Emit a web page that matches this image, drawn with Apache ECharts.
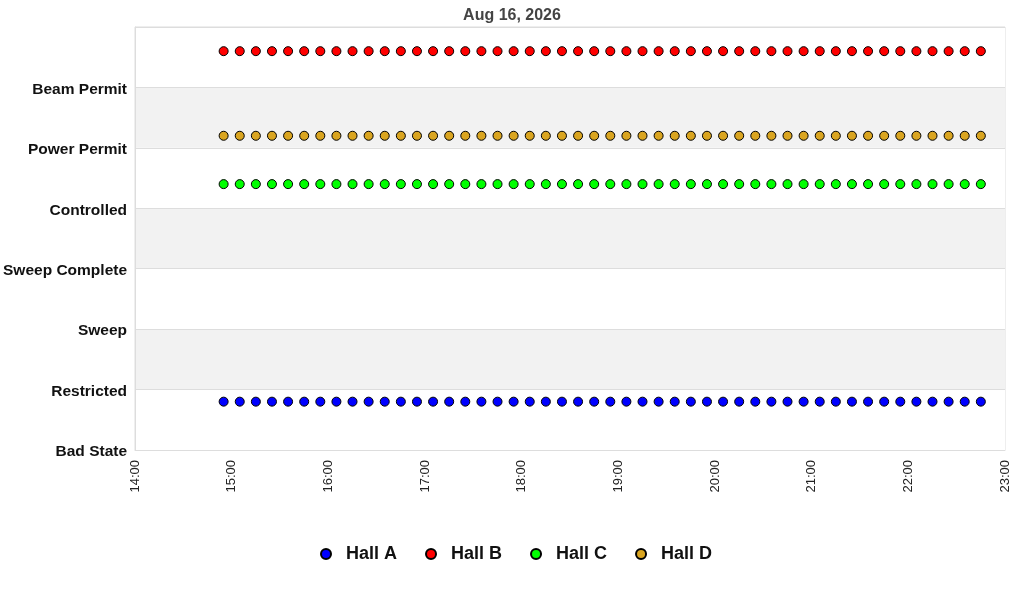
<!DOCTYPE html>
<html><head><meta charset="utf-8">
<script src="https://cdn.jsdelivr.net/npm/echarts@6/dist/echarts.min.js"></script>
<style>html,body{margin:0;padding:0;background:#fff}#c{width:1024px;height:600px}</style>
</head><body><div id="c"></div>
<script>
const day = '2026-08-16';
const times = ['14:55','15:05','15:15','15:25','15:35','15:45','15:55','16:05','16:15','16:25','16:35','16:45',
'16:55','17:05','17:15','17:25','17:35','17:45','17:55','18:05','18:15','18:25','18:35','18:45',
'18:55','19:05','19:15','19:25','19:35','19:45','19:55','20:05','20:15','20:25','20:35','20:45',
'20:55','21:05','21:15','21:25','21:35','21:45','21:55','22:05','22:15','22:25','22:35','22:45'];
const stateLabels = ['Bad State','Restricted','Sweep','Sweep Complete','Controlled','Power Permit','Beam Permit',''];
const hallA = [0.8,0.8,0.8,0.8,0.8,0.8,0.8,0.8,0.8,0.8,0.8,0.8,0.8,0.8,0.8,0.8,0.8,0.8,0.8,0.8,0.8,0.8,0.8,0.8,
0.8,0.8,0.8,0.8,0.8,0.8,0.8,0.8,0.8,0.8,0.8,0.8,0.8,0.8,0.8,0.8,0.8,0.8,0.8,0.8,0.8,0.8,0.8,0.8];
const hallB = [6.6,6.6,6.6,6.6,6.6,6.6,6.6,6.6,6.6,6.6,6.6,6.6,6.6,6.6,6.6,6.6,6.6,6.6,6.6,6.6,6.6,6.6,6.6,6.6,
6.6,6.6,6.6,6.6,6.6,6.6,6.6,6.6,6.6,6.6,6.6,6.6,6.6,6.6,6.6,6.6,6.6,6.6,6.6,6.6,6.6,6.6,6.6,6.6];
const hallC = [4.4,4.4,4.4,4.4,4.4,4.4,4.4,4.4,4.4,4.4,4.4,4.4,4.4,4.4,4.4,4.4,4.4,4.4,4.4,4.4,4.4,4.4,4.4,4.4,
4.4,4.4,4.4,4.4,4.4,4.4,4.4,4.4,4.4,4.4,4.4,4.4,4.4,4.4,4.4,4.4,4.4,4.4,4.4,4.4,4.4,4.4,4.4,4.4];
const hallD = [5.2,5.2,5.2,5.2,5.2,5.2,5.2,5.2,5.2,5.2,5.2,5.2,5.2,5.2,5.2,5.2,5.2,5.2,5.2,5.2,5.2,5.2,5.2,5.2,
5.2,5.2,5.2,5.2,5.2,5.2,5.2,5.2,5.2,5.2,5.2,5.2,5.2,5.2,5.2,5.2,5.2,5.2,5.2,5.2,5.2,5.2,5.2,5.2];
const seriesNames = ['Hall A','Hall B','Hall C','Hall D'];
const seriesColors = ['#0000ff','#ff0000','#00ff00','#daa520'];
const seriesValues = [hallA, hallB, hallC, hallD];

const chart = echarts.init(document.getElementById('c'));
const pad = n => (n < 10 ? '0' : '') + n;
chart.setOption({
  animation: false,
  backgroundColor: '#fff',
  title: { text: 'Aug 16, 2026', left: 'center', top: 3,
    textStyle: { fontFamily: 'Liberation Sans', fontSize: 16, fontWeight: 'bold', color: '#444' } },
  grid: { left: 135, right: 19, top: 27, bottom: 150, show: true, borderColor: '#dddddd', borderWidth: 1, backgroundColor: 'transparent' },
  legend: {
    bottom: 32, left: 315, icon: 'circle', itemWidth: 10, itemHeight: 10, itemGap: 28,
    data: seriesNames,
    textStyle: { fontFamily: 'Liberation Sans', fontSize: 18, fontWeight: 'bold', color: '#111', padding: [0,0,0,10] }
  },
  xAxis: {
    type: 'time',
    min: day + ' 14:00', max: day + ' 23:00', interval: 3600000,
    axisLine: { show: true, lineStyle: { color: '#dddddd' } },
    axisTick: { show: false },
    splitLine: { show: false },
    axisLabel: {
      rotate: 90, margin: 10, color: '#222', fontFamily: 'Liberation Sans', fontSize: 13,
      showMinLabel: true, showMaxLabel: true,
      formatter: v => { const d = new Date(v); return pad(d.getHours()) + ':' + pad(d.getMinutes()); }
    }
  },
  yAxis: {
    type: 'value', min: 0, max: 7, interval: 1,
    axisLine: { show: true, lineStyle: { color: '#dddddd' } },
    axisTick: { show: false },
    splitLine: { show: true, lineStyle: { color: '#dddddd' } },
    splitArea: { show: true, areaStyle: { color: ['#ffffff', '#f2f2f2'] } },
    axisLabel: {
      margin: 8, color: '#111', fontFamily: 'Liberation Sans', fontSize: 15.5, fontWeight: 'bold',
      verticalAlign: 'top', lineHeight: 4,
      formatter: v => stateLabels[Math.round(v)] || ''
    }
  },
  series: seriesNames.map((name, i) => ({
    name, type: 'scatter', symbol: 'circle', symbolSize: 9,
    itemStyle: { color: seriesColors[i], borderColor: '#000', borderWidth: 1, opacity: 1 },
    data: times.map((t, j) => [day + ' ' + t, seriesValues[i][j]])
  }))
});
</script>
</body></html>
